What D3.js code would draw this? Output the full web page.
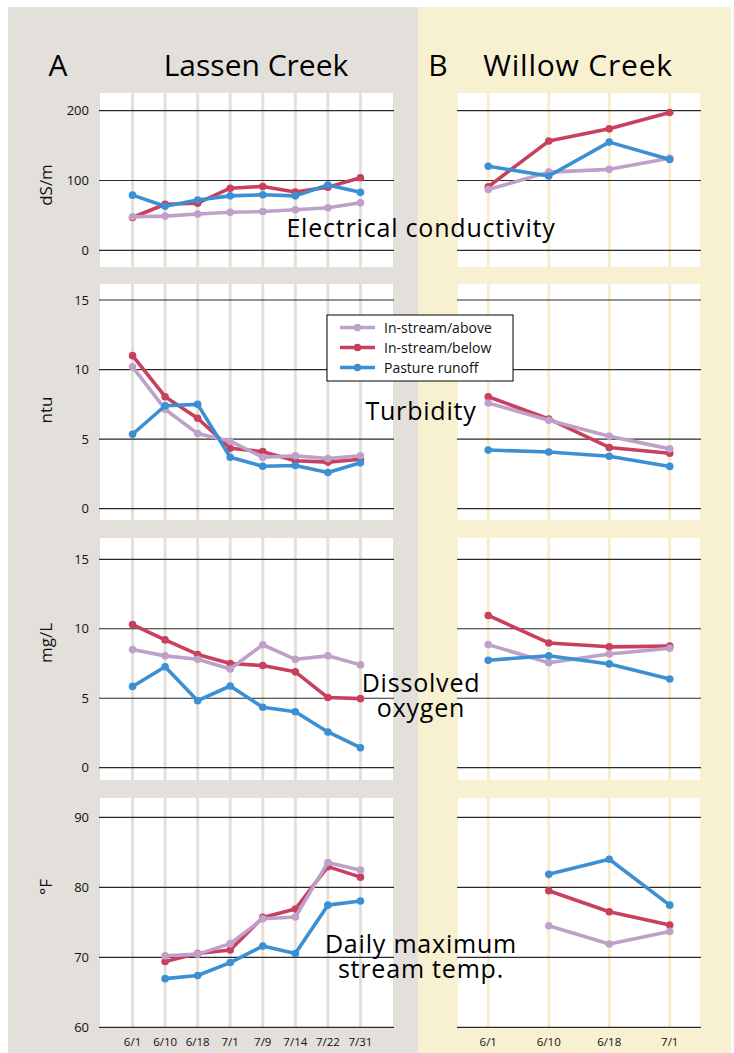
<!DOCTYPE html>
<html>
<head>
<meta charset="utf-8">
<script src="https://cdn.jsdelivr.net/npm/d3@7"></script>
<style>
  html, body { margin: 0; padding: 0; background: #ffffff; }
  svg { display: block; font-family: "Open Sans", "Noto Sans", sans-serif; }
</style>
</head>
<body>
<svg id="chart" width="734" height="1053"></svg>
<script>
// ---------- DATA ----------
const datesA = ["6/1", "6/10", "6/18", "7/1", "7/9", "7/14", "7/22", "7/31"];
const datesB = ["6/1", "6/10", "6/18", "7/1"];
const seriesNames = ["In-stream/above", "In-stream/below", "Pasture runoff"];

// Electrical conductivity (dS/m)
const ecA_above  = [48, 49, 52, 54.5, 55.5, 58, 61, 68];
const ecA_below  = [47, 66, 67.5, 89, 91.5, 83.5, 90.5, 104];
const ecA_runoff = [79, 63, 72, 78, 79.5, 78, 93.5, 83];
const ecB_above  = [87, 112, 116, 132];
const ecB_below  = [91, 156.5, 174, 197.5];
const ecB_runoff = [120.5, 106.5, 155, 130];

// Turbidity (ntu)
const tuA_above  = [10.2, 7.15, 5.4, 4.85, 3.7, 3.8, 3.6, 3.8];
const tuA_below  = [11.0, 8.05, 6.5, 4.35, 4.1, 3.45, 3.35, 3.55];
const tuA_runoff = [5.35, 7.4, 7.5, 3.7, 3.05, 3.1, 2.6, 3.3];
const tuB_above  = [7.6, 6.35, 5.2, 4.3];
const tuB_below  = [8.05, 6.45, 4.4, 3.98];
const tuB_runoff = [4.22, 4.08, 3.77, 3.04];

// Dissolved oxygen (mg/L)
const doA_above  = [8.5, 8.05, 7.8, 7.1, 8.85, 7.8, 8.05, 7.4];
const doA_below  = [10.3, 9.2, 8.15, 7.5, 7.35, 6.9, 5.05, 4.97];
const doA_runoff = [5.85, 7.27, 4.82, 5.88, 4.35, 4.03, 2.57, 1.44];
const doB_above  = [8.86, 7.56, 8.18, 8.6];
const doB_below  = [10.96, 8.98, 8.7, 8.75];
const doB_runoff = [7.73, 8.06, 7.47, 6.38];

// Daily maximum stream temperature (°F); no reading on 6/1
const tmA_above  = [null, 70.2, 70.45, 71.95, 75.5, 75.75, 83.55, 82.45];
const tmA_below  = [null, 69.4, 70.55, 71.05, 75.7, 76.9, 82.95, 81.45];
const tmA_runoff = [null, 66.95, 67.4, 69.25, 71.6, 70.55, 77.45, 78.05];
const tmB_above  = [null, 74.5, 71.9, 73.7];
const tmB_below  = [null, 79.5, 76.5, 74.6];
const tmB_runoff = [null, 81.85, 84.0, 77.45];

// Tick values and labels
const ecTicks = [0, 100, 200];
const tuTicks = [0, 5, 10, 15];
const doTicks = [0, 5, 10, 15];
const tmTicks = [60, 70, 80, 90];
const yTitles = ["dS/m", "ntu", "mg/L", "°F"];
const rowLabels = [["Electrical conductivity"], ["Turbidity"], ["Dissolved", "oxygen"], ["Daily maximum", "stream temp."]];
const panelTitles = ["Lassen Creek", "Willow Creek"];
const panelLetters = ["A", "B"];

// ---------- STYLE ----------
const colors = ["#bea0c9", "#c9405f", "#3b90d4"];
const drawOrder = [1, 0, 2]; // below, above, runoff on top

const svg = d3.select("#chart");

// backgrounds
svg.append("rect").attr("x", 8).attr("y", 7).attr("width", 410).attr("height", 1046).attr("fill", "#e3dfdb");
svg.append("rect").attr("x", 418).attr("y", 7).attr("width", 313).attr("height", 1046).attr("fill", "#f7f0d1");

// titles
const titleY = 76;
svg.append("text").attr("x", 58).attr("y", titleY).attr("text-anchor", "middle").attr("font-size", 30).text(panelLetters[0]);
svg.append("text").attr("x", 256).attr("y", titleY).attr("text-anchor", "middle").attr("font-size", 30).text(panelTitles[0]);
svg.append("text").attr("x", 438).attr("y", titleY).attr("text-anchor", "middle").attr("font-size", 30).text(panelLetters[1]);
svg.append("text").attr("x", 578).attr("y", titleY).attr("text-anchor", "middle").attr("font-size", 30)
  .attr("letter-spacing", 0.8).text(panelTitles[1]);

// rows
const rows = [
  { domain: [0, 200], range: [250.3, 110.7], white: [93, 267], ticks: ecTicks,
    A: [ecA_above, ecA_below, ecA_runoff], B: [ecB_above, ecB_below, ecB_runoff], titleY: 185 },
  { domain: [0, 15], range: [508.7, 300], white: [284, 520], ticks: tuTicks,
    A: [tuA_above, tuA_below, tuA_runoff], B: [tuB_above, tuB_below, tuB_runoff], titleY: 410 },
  { domain: [0, 15], range: [767.7, 559.3], white: [538, 780], ticks: doTicks,
    A: [doA_above, doA_below, doA_runoff], B: [doB_above, doB_below, doB_runoff], titleY: 643 },
  { domain: [60, 90], range: [1027.3, 817.3], white: [798, 1027.3], ticks: tmTicks,
    A: [tmA_above, tmA_below, tmA_runoff], B: [tmB_above, tmB_below, tmB_runoff], titleY: 887 }
];
const labelBaselines = [237, 420, 692, 953];

const xA = d3.scalePoint().domain(datesA).range([100, 393]).padding(1);
const xB = d3.scalePoint().domain(datesB).range([458, 700]).padding(0.5);

const panels = [
  { key: "A", x: xA, dates: datesA, x0: 100, x1: 393, vcol: "#e3dfdb" },
  { key: "B", x: xB, dates: datesB, x0: 458, x1: 700, vcol: "#f6edca" }
];

rows.forEach((row, ri) => {
  const y = d3.scaleLinear().domain(row.domain).range(row.range);
  panels.forEach(p => {
    const g = svg.append("g");
    // white plot area
    g.append("rect").attr("x", p.x0).attr("y", row.white[0])
      .attr("width", p.x1 - p.x0).attr("height", row.white[1] - row.white[0]).attr("fill", "#ffffff");
    // vertical date lines
    g.selectAll("line.v").data(p.dates).join("line")
      .attr("x1", d => p.x(d)).attr("x2", d => p.x(d))
      .attr("y1", row.white[0]).attr("y2", row.white[1])
      .attr("stroke", p.vcol).attr("stroke-width", 3);
    // horizontal grid lines
    g.selectAll("line.h").data(row.ticks).join("line")
      .attr("x1", p.x0 - 1).attr("x2", p.x1 + 1)
      .attr("y1", d => y(d)).attr("y2", d => y(d))
      .attr("stroke", "#2a2a2a").attr("stroke-width", 1.2);
    // y tick labels (panel A only)
    if (p.key === "A") {
      g.selectAll("text.tick").data(row.ticks).join("text")
        .attr("x", 89).attr("y", d => y(d)).attr("dy", "0.36em")
        .attr("text-anchor", "end").attr("font-size", 13).attr("fill", "#111")
        .text(d => d);
      g.append("text")
        .attr("transform", `translate(52,${row.titleY}) rotate(-90)`)
        .attr("text-anchor", "middle").attr("font-size", 17).attr("fill", "#111")
        .text(yTitles[ri]);
    }
    // series
    const line = d3.line().defined(d => d.v != null).x(d => p.x(d.date)).y(d => y(d.v));
    drawOrder.forEach(si => {
      const vals = row[p.key][si].map((v, i) => ({ date: p.dates[i], v }));
      g.append("path").datum(vals).attr("d", line)
        .attr("fill", "none").attr("stroke", colors[si]).attr("stroke-width", 3.6)
        .attr("stroke-linejoin", "round");
      g.selectAll(null).data(vals.filter(d => d.v != null)).join("circle")
        .attr("cx", d => p.x(d.date)).attr("cy", d => y(d.v)).attr("r", 3.8)
        .attr("fill", colors[si]);
    });
    // x labels on last row
    if (ri === rows.length - 1) {
      g.selectAll("text.xl").data(p.dates).join("text")
        .attr("x", d => p.x(d)).attr("y", 1046)
        .attr("text-anchor", "middle").attr("font-size", 11.5).attr("fill", "#111")
        .text(d => d);
    }
  });
  // row annotation label (one text element, lines as tspans)
  const t = svg.append("text").attr("y", labelBaselines[ri])
    .attr("text-anchor", "middle").attr("font-size", 25).attr("letter-spacing", 0.8).attr("fill", "#000");
  rowLabels[ri].forEach((s, li) => {
    t.append("tspan").attr("x", 421).attr("dy", li === 0 ? 0 : 25).text(s);
  });
});

// legend
const lg = svg.append("g");
lg.append("rect").attr("x", 327).attr("y", 315).attr("width", 186).attr("height", 66)
  .attr("fill", "#ffffff").attr("stroke", "#000").attr("stroke-width", 1);
const legendY = [327.5, 347.5, 367.5];
seriesNames.forEach((n, i) => {
  lg.append("line").attr("x1", 340).attr("x2", 375).attr("y1", legendY[i]).attr("y2", legendY[i])
    .attr("stroke", colors[i]).attr("stroke-width", 3.6);
  lg.append("circle").attr("cx", 357.5).attr("cy", legendY[i]).attr("r", 3.8).attr("fill", colors[i]);
  lg.append("text").attr("x", 384).attr("y", legendY[i]).attr("dy", "0.36em")
    .attr("font-size", 14).attr("fill", "#111").text(n);
});
</script>
</body>
</html>
